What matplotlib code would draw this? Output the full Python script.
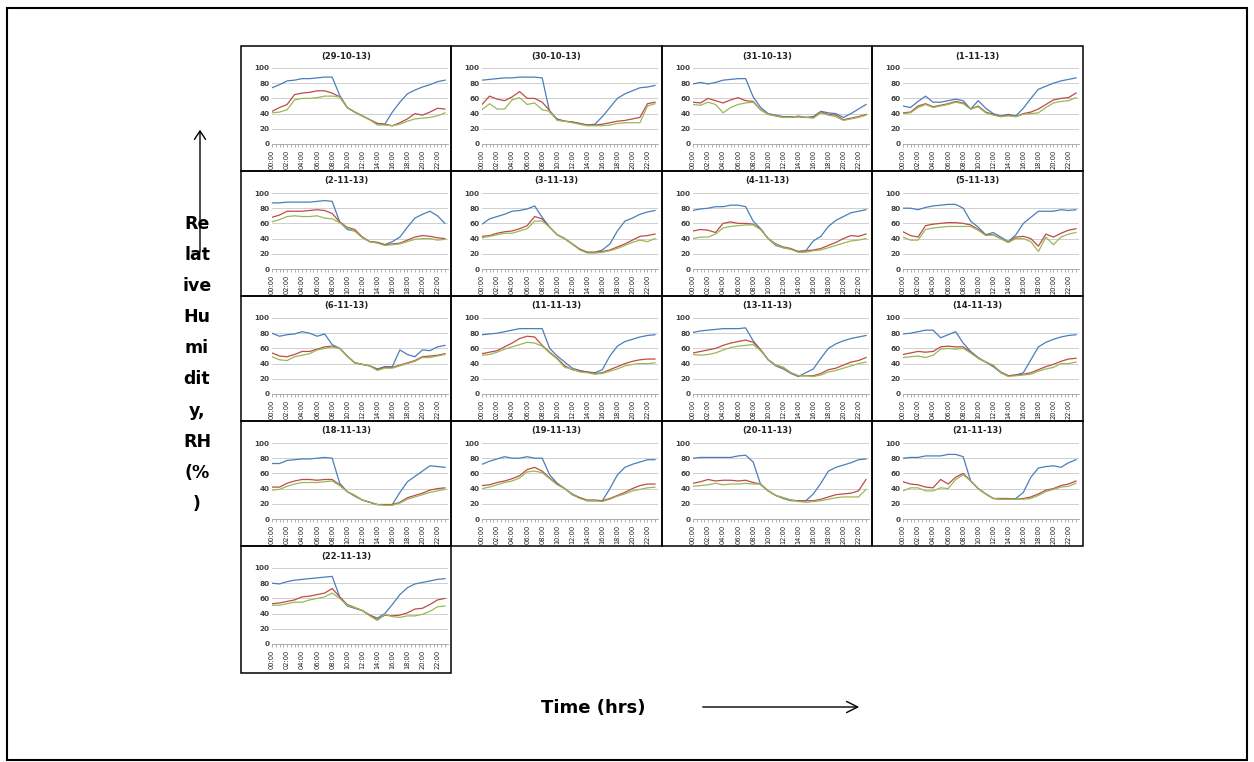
import matplotlib
matplotlib.use("Agg")
import matplotlib.pyplot as plt
from matplotlib.patches import Rectangle, FancyArrowPatch

# ---------------- data (hourly readings, 00:00 .. 23:00) ----------------
HOURS = list(range(24))
TICK_POS = list(range(0, 24, 2))
TICK_LABELS = ["00:00", "02:00", "04:00", "06:00", "08:00", "10:00",
               "12:00", "14:00", "16:00", "18:00", "20:00", "22:00"]
Y_TICKS = [0, 20, 40, 60, 80, 100]

DATES = ["(29-10-13)", "(30-10-13)", "(31-10-13)", "(1-11-13)",
         "(2-11-13)", "(3-11-13)", "(4-11-13)", "(5-11-13)",
         "(6-11-13)", "(11-11-13)", "(13-11-13)", "(14-11-13)",
         "(18-11-13)", "(19-11-13)", "(20-11-13)", "(21-11-13)",
         "(22-11-13)"]

blue_29_10 = [74, 78, 83, 84, 86, 86, 87, 88, 88, 64, 48, 42, 37, 32, 27, 26, 42, 55, 66, 71, 75, 78, 82, 84]
red_29_10 = [43, 48, 52, 65, 67, 68, 70, 70, 67, 62, 48, 42, 37, 32, 27, 26, 24, 28, 33, 40, 38, 42, 47, 46]
green_29_10 = [41, 42, 45, 58, 60, 60, 61, 63, 63, 62, 48, 42, 37, 32, 25, 25, 24, 26, 30, 33, 34, 35, 37, 41]

blue_30_10 = [84, 85, 86, 87, 87, 88, 88, 88, 87, 42, 33, 30, 29, 27, 25, 26, 36, 48, 60, 66, 70, 74, 75, 77]
red_30_10 = [52, 63, 59, 57, 62, 69, 60, 60, 55, 44, 32, 30, 29, 27, 25, 25, 26, 28, 30, 31, 33, 35, 53, 55]
green_30_10 = [45, 53, 46, 46, 58, 61, 52, 54, 45, 43, 31, 30, 28, 26, 24, 24, 24, 25, 27, 28, 28, 28, 50, 53]

blue_31_10 = [79, 81, 79, 81, 84, 85, 86, 86, 62, 48, 40, 38, 36, 36, 36, 35, 36, 43, 41, 40, 35, 40, 46, 52]
red_31_10 = [55, 54, 60, 57, 54, 58, 61, 57, 56, 45, 39, 37, 35, 35, 36, 35, 35, 42, 39, 38, 32, 34, 36, 39]
green_31_10 = [52, 51, 55, 52, 41, 48, 52, 54, 55, 45, 39, 37, 35, 35, 37, 35, 34, 41, 38, 36, 31, 33, 35, 38]

blue_1_11 = [50, 48, 56, 63, 55, 55, 57, 59, 57, 46, 57, 47, 40, 37, 39, 37, 47, 60, 72, 76, 80, 83, 85, 87]
red_1_11 = [41, 42, 50, 53, 49, 51, 53, 56, 54, 46, 50, 42, 39, 36, 38, 36, 40, 42, 46, 52, 58, 60, 61, 67]
green_1_11 = [40, 41, 48, 52, 48, 50, 52, 55, 53, 46, 49, 41, 38, 36, 37, 36, 39, 40, 41, 48, 54, 56, 57, 61]

blue_2_11 = [87, 87, 88, 88, 88, 88, 89, 90, 89, 62, 52, 50, 42, 36, 35, 32, 36, 42, 55, 67, 72, 76, 70, 60]
red_2_11 = [68, 71, 76, 76, 76, 77, 78, 77, 73, 62, 55, 52, 42, 36, 35, 32, 33, 34, 38, 42, 44, 43, 41, 40]
green_2_11 = [62, 65, 69, 70, 69, 69, 70, 67, 66, 61, 54, 50, 41, 36, 34, 31, 32, 33, 36, 39, 40, 40, 38, 39]

blue_3_11 = [59, 66, 69, 72, 76, 77, 79, 83, 68, 55, 45, 40, 33, 26, 22, 22, 25, 33, 50, 63, 67, 72, 75, 77]
red_3_11 = [43, 44, 47, 49, 50, 53, 57, 69, 66, 55, 45, 40, 33, 26, 22, 22, 23, 25, 29, 33, 38, 43, 44, 46]
green_3_11 = [41, 43, 45, 47, 47, 50, 53, 63, 63, 55, 45, 40, 33, 25, 21, 21, 22, 24, 27, 31, 35, 38, 36, 40]

blue_4_11 = [77, 79, 80, 82, 82, 84, 84, 82, 63, 53, 40, 31, 28, 26, 23, 24, 37, 43, 56, 64, 69, 74, 76, 78]
red_4_11 = [50, 52, 51, 48, 60, 62, 60, 60, 59, 52, 40, 33, 29, 27, 23, 24, 25, 27, 31, 35, 40, 44, 43, 46]
green_4_11 = [40, 42, 42, 46, 54, 56, 57, 58, 58, 52, 40, 32, 28, 26, 22, 22, 24, 25, 28, 31, 34, 37, 38, 40]

blue_5_11 = [80, 80, 78, 81, 83, 84, 85, 85, 80, 63, 55, 45, 48, 42, 36, 45, 60, 68, 76, 76, 76, 78, 77, 78]
red_5_11 = [49, 44, 42, 57, 59, 60, 61, 61, 60, 58, 52, 45, 45, 40, 35, 42, 43, 40, 30, 46, 42, 47, 51, 53]
green_5_11 = [42, 38, 38, 52, 54, 55, 56, 56, 56, 56, 51, 44, 45, 40, 35, 40, 40, 36, 23, 42, 32, 42, 46, 48]

blue_6_11 = [80, 76, 78, 79, 82, 80, 76, 79, 65, 60, 50, 41, 39, 37, 33, 36, 36, 58, 52, 49, 58, 57, 62, 64]
red_6_11 = [54, 50, 49, 52, 56, 56, 59, 62, 63, 60, 50, 41, 39, 37, 32, 35, 35, 38, 41, 44, 49, 50, 51, 53]
green_6_11 = [49, 45, 44, 49, 51, 53, 58, 60, 62, 60, 50, 41, 39, 37, 31, 34, 34, 37, 40, 43, 48, 48, 50, 52]

blue_11_11 = [78, 79, 80, 82, 84, 86, 86, 86, 86, 60, 50, 42, 34, 31, 29, 28, 32, 50, 63, 69, 72, 75, 77, 78]
red_11_11 = [53, 55, 57, 62, 67, 73, 76, 75, 64, 55, 47, 37, 32, 30, 29, 27, 28, 32, 36, 40, 43, 45, 46, 46]
green_11_11 = [51, 52, 55, 59, 62, 65, 68, 67, 63, 54, 46, 35, 33, 29, 28, 26, 27, 30, 33, 37, 39, 40, 40, 41]

blue_13_11 = [81, 83, 84, 85, 86, 86, 86, 87, 70, 58, 45, 37, 33, 27, 23, 28, 33, 47, 60, 66, 70, 73, 75, 77]
red_13_11 = [54, 56, 58, 60, 64, 67, 69, 71, 68, 58, 45, 38, 35, 28, 24, 24, 24, 27, 32, 34, 38, 42, 44, 48]
green_13_11 = [52, 51, 52, 54, 58, 61, 63, 64, 65, 57, 45, 38, 35, 28, 24, 24, 23, 25, 29, 31, 34, 37, 40, 42]

blue_14_11 = [79, 80, 82, 84, 84, 74, 78, 82, 67, 56, 48, 42, 36, 28, 24, 25, 28, 45, 62, 68, 72, 75, 77, 78]
red_14_11 = [52, 54, 56, 55, 56, 62, 63, 62, 62, 55, 47, 42, 37, 29, 24, 25, 26, 28, 32, 36, 39, 43, 46, 47]
green_14_11 = [48, 49, 50, 48, 51, 59, 60, 59, 60, 54, 47, 42, 38, 28, 23, 24, 25, 26, 30, 33, 35, 40, 40, 42]

blue_18_11 = [73, 73, 77, 78, 79, 79, 80, 81, 80, 47, 36, 30, 25, 22, 19, 19, 19, 35, 49, 56, 63, 70, 69, 68]
red_18_11 = [42, 42, 47, 50, 52, 52, 51, 52, 52, 45, 36, 31, 25, 22, 19, 19, 19, 22, 28, 31, 34, 38, 40, 41]
green_18_11 = [38, 39, 43, 46, 48, 48, 48, 49, 50, 44, 36, 31, 25, 22, 19, 18, 18, 21, 26, 29, 32, 35, 37, 39]

blue_19_11 = [72, 76, 79, 82, 80, 80, 82, 80, 80, 58, 47, 40, 33, 28, 24, 24, 24, 40, 58, 68, 72, 75, 78, 78]
red_19_11 = [44, 45, 48, 50, 53, 57, 65, 68, 63, 54, 46, 40, 32, 28, 25, 25, 24, 27, 31, 35, 40, 44, 46, 46]
green_19_11 = [40, 42, 45, 48, 50, 54, 62, 63, 61, 53, 45, 40, 32, 27, 24, 24, 23, 26, 30, 33, 37, 39, 41, 42]

blue_20_11 = [80, 81, 81, 81, 81, 81, 83, 84, 75, 45, 37, 31, 27, 24, 24, 24, 33, 47, 63, 68, 71, 74, 78, 79]
red_20_11 = [47, 49, 52, 50, 51, 51, 50, 51, 48, 46, 37, 31, 28, 25, 24, 24, 24, 26, 29, 32, 33, 34, 37, 52]
green_20_11 = [43, 44, 45, 47, 45, 46, 46, 47, 46, 46, 37, 31, 28, 25, 23, 22, 23, 24, 26, 28, 29, 29, 29, 39]

blue_21_11 = [80, 81, 81, 83, 83, 83, 85, 85, 82, 50, 40, 33, 27, 26, 26, 27, 35, 55, 67, 69, 70, 68, 74, 78]
red_21_11 = [49, 46, 45, 42, 41, 52, 46, 55, 60, 50, 40, 33, 27, 27, 27, 26, 27, 29, 33, 38, 40, 44, 46, 50]
green_21_11 = [37, 41, 41, 37, 37, 41, 40, 52, 58, 50, 40, 33, 27, 26, 26, 26, 26, 27, 31, 36, 39, 42, 43, 47]

blue_22_11 = [80, 79, 82, 84, 85, 86, 87, 88, 89, 62, 50, 47, 44, 38, 34, 40, 52, 65, 74, 79, 81, 83, 85, 86]
red_22_11 = [53, 54, 56, 58, 62, 63, 65, 67, 73, 62, 52, 48, 44, 38, 32, 38, 37, 38, 41, 46, 47, 52, 58, 60]
green_22_11 = [51, 51, 53, 55, 55, 58, 60, 62, 67, 60, 51, 48, 44, 37, 31, 39, 36, 35, 37, 37, 39, 43, 49, 50]

BLUE = [blue_29_10, blue_30_10, blue_31_10, blue_1_11, blue_2_11, blue_3_11,
        blue_4_11, blue_5_11, blue_6_11, blue_11_11, blue_13_11, blue_14_11,
        blue_18_11, blue_19_11, blue_20_11, blue_21_11, blue_22_11]
RED = [red_29_10, red_30_10, red_31_10, red_1_11, red_2_11, red_3_11,
       red_4_11, red_5_11, red_6_11, red_11_11, red_13_11, red_14_11,
       red_18_11, red_19_11, red_20_11, red_21_11, red_22_11]
GREEN = [green_29_10, green_30_10, green_31_10, green_1_11, green_2_11, green_3_11,
         green_4_11, green_5_11, green_6_11, green_11_11, green_13_11, green_14_11,
         green_18_11, green_19_11, green_20_11, green_21_11, green_22_11]

C_BLUE, C_RED, C_GREEN = "#4A7EBB", "#BE4B48", "#98B954"

# ---------------- layout ----------------
W, H = 1254, 762
fig = plt.figure(figsize=(W / 100, H / 100), dpi=100)
fig.patch.set_facecolor("white")


def fx(x):
    return x / W


def fy(y):
    return 1 - y / H


COL_X = [241, 451, 662, 872]
ROW_Y = [46, 171, 296, 421, 546]
PW = [210, 211, 210, 211]
PH = 125

# outer frame
fig.patches.append(Rectangle((fx(7), fy(760)), (1247 - 7) / W, (760 - 8) / H,
                             transform=fig.transFigure, fill=False,
                             edgecolor="black", linewidth=1.5))

for i, date in enumerate(DATES):
    r, c = divmod(i, 4)
    px, py = COL_X[c], ROW_Y[r]
    pw = PW[c]
    ph = PH if r < 4 else 127
    # panel border
    fig.patches.append(Rectangle((fx(px), fy(py + ph)), pw / W, ph / H,
                                 transform=fig.transFigure, fill=False,
                                 edgecolor="black", linewidth=1.1, zorder=5))
    ax = fig.add_axes([fx(px + 31), fy(py + 98), 176 / W, 76 / H])
    ax.plot(HOURS, BLUE[i], color=C_BLUE, lw=0.9)
    ax.plot(HOURS, RED[i], color=C_RED, lw=0.9)
    ax.plot(HOURS, GREEN[i], color=C_GREEN, lw=0.9)
    ax.set_ylim(0, 100)
    ax.set_xlim(0, 23.4)
    ax.set_yticks(Y_TICKS)
    ax.set_yticklabels([str(v) for v in Y_TICKS], fontsize=5.2, fontweight="bold", color="#404040")
    ax.set_xticks(TICK_POS)
    ax.set_xticklabels(TICK_LABELS, rotation=90, fontsize=4.8, color="#202020")
    ax.set_xticks([h / 2 for h in range(47)], minor=True)
    ax.tick_params(axis="y", length=0, pad=2)
    ax.tick_params(axis="x", which="both", length=2.5, width=0.5, color="#909090",
                   direction="out", pad=1.5)
    for s in ("left", "right", "top"):
        ax.spines[s].set_visible(False)
    ax.spines["bottom"].set_color("#A0A0A0")
    ax.spines["bottom"].set_linewidth(0.6)
    ax.grid(axis="y", color="#C8C8C8", linewidth=0.6)
    ax.set_axisbelow(True)
    ax.set_facecolor("none")
    fig.text(fx(px + pw / 2), fy(py + 10), date, ha="center", va="center",
             fontsize=6, fontweight="bold", color="#202020")

# y label (broken into lines like the original)
YLAB = ["Re", "lat", "ive", "Hu", "mi", "dit", "y,", "RH", "(%", ")"]
for k, seg in enumerate(YLAB):
    fig.text(fx(197), fy(224 + 31.1 * k), seg, ha="center", va="center",
             fontsize=12.5, fontweight="bold", color="black")

fig.patches.append(FancyArrowPatch((fx(200), fy(255)), (fx(200), fy(127)),
                                   transform=fig.transFigure, arrowstyle="->,head_length=6,head_width=4",
                                   color="black", lw=1.0, mutation_scale=1))

fig.text(fx(593), fy(708), "Time (hrs)", ha="center", va="center",
         fontsize=13, fontweight="bold", color="black")
fig.patches.append(FancyArrowPatch((fx(700), fy(707)), (fx(862), fy(707)),
                                   transform=fig.transFigure, arrowstyle="->,head_length=8,head_width=4",
                                   color="black", lw=1.0, mutation_scale=1))

fig.savefig("out.png", dpi=100, facecolor="white")
